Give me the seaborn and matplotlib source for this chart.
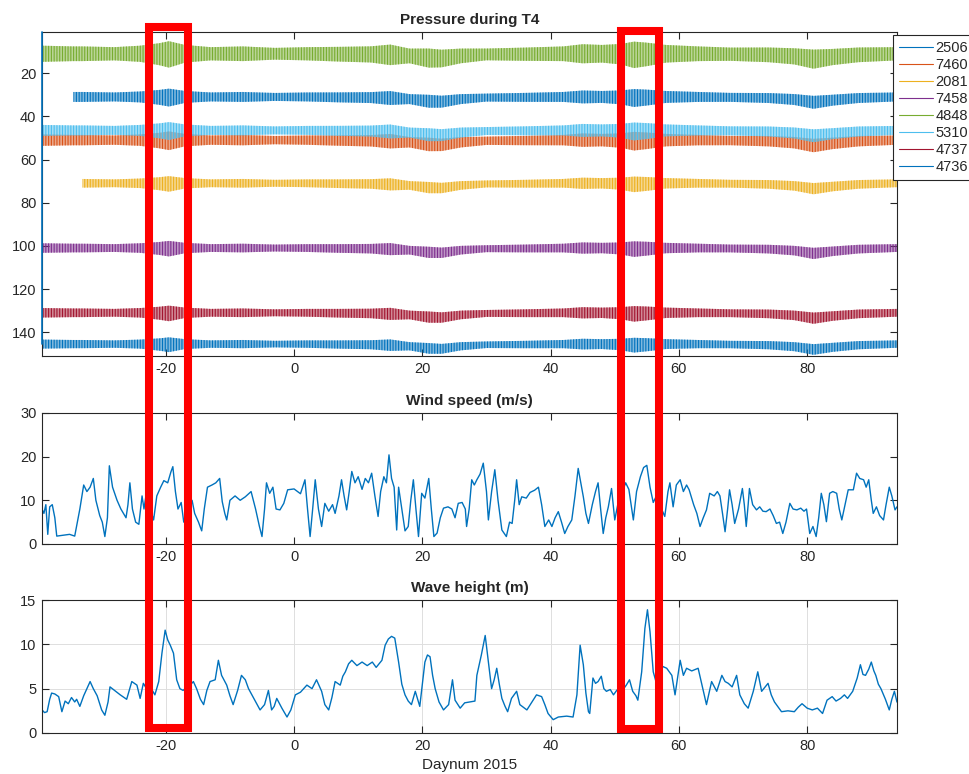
import matplotlib
matplotlib.use("Agg")
import matplotlib.pyplot as plt
from matplotlib.colors import to_rgba
from matplotlib.lines import Line2D
from matplotlib.patches import Rectangle
from matplotlib.transforms import blended_transform_factory
import numpy as np
import pandas as pd
import seaborn as sns

# ---- pressure loggers (depth in dbar, band = tidal range) ----
loggers = ["2506", "7460", "2081", "7458", "4848", "5310", "4737", "4736"]
logger_colors = ["#0072BD", "#D95319", "#EDB120", "#7E2F8E",
                 "#77AC30", "#4DBEEE", "#A2142F", "#0072BD"]
logger_depth = [31.0, 51.0, 71.0, 101.0, 11.0, 46.5, 131.0, 145.5]
logger_halfrange = [2.3, 2.4, 2.0, 2.0, 3.4, 2.3, 2.0, 1.9]
logger_start = [-34.4, -39.3, -33.0, -39.3, -39.3, -39.3, -39.3, -39.3]
deploy_4736 = [1.0, 145.5]

# spring/neap modulation of the tidal range and low-frequency setdown
env_day = [-39.3, -34.4, -33.0, -28, -24, -21, -19.5, -17, -13, -8, -3, 2, 7,
           12, 15, 18, 21, 23, 26, 30, 36, 42, 45, 48, 51, 53, 55, 58, 63,
           68, 74, 78, 81, 84, 88, 94]
tide_factor = [1.1, 1.0, 1.0, 0.9, 1.1, 1.5, 1.8, 1.2, 0.9, 1.0, 0.8, 0.9, 1.0,
               1.1, 1.4, 1.0, 1.3, 1.2, 1.0, 0.8, 0.9, 1.0, 1.3, 1.2, 1.4, 1.8,
               1.6, 1.2, 1.0, 0.9, 1.0, 1.1, 1.3, 1.1, 1.0, 0.9]
setdown = [0.0, 0.0, 0.0, 0.0, 0.0, 0.2, 0.3, 0.0, 0.0, 0.0, 0.0, 0.0, 0.2,
           0.3, 0.5, 1.0, 2.0, 2.2, 1.0, 0.3, 0.2, 0.0, 0.0, 0.0, 0.2, 0.5,
           0.3, 0.0, 0.0, 0.2, 0.5, 1.2, 2.5, 1.5, 0.5, 0.0]

# ---- wind speed (m/s) ----
wind_day = [-39.3, -39.0, -38.7, -38.4, -38.1, -37.7, -37.3, -37.0, -36.0, -35.0,
            -34.2, -33.4, -32.8, -32.3, -31.8, -31.3, -30.9, -30.3, -29.9, -29.5,
            -29.1, -28.8, -28.3, -27.6, -27.0, -26.2, -25.9, -25.6, -25.2, -24.7,
            -24.2, -23.7, -23.4, -23.0, -22.4, -21.9, -21.4, -20.8, -20.3, -19.7,
            -19.2, -18.9, -18.5, -18.1, -17.6, -17.2, -16.5, -15.9, -15.5, -14.9,
            -14.4, -14.0, -13.5, -12.8, -12.2, -11.6, -11.2, -10.8, -10.5, -10.0,
            -9.2, -8.4, -7.6, -6.7, -6.0, -5.4, -5.0, -4.6, -4.3, -3.8,
            -3.3, -2.8, -2.2, -1.6, -1.0, 0.0, 1.0, 1.7, 2.1, 2.5,
            2.9, 3.3, 3.8, 4.3, 4.8, 5.4, 6.0, 6.4, 7.0, 7.4,
            7.8, 8.2, 8.6, 9.0, 9.5, 10.0, 10.6, 11.1, 11.6, 12.1,
            12.6, 13.1, 13.5, 14.0, 14.4, 14.8, 15.2, 15.6, 16.0, 16.3,
            16.8, 17.3, 17.8, 18.2, 18.6, 19.0, 19.4, 19.9, 20.4, 21.0,
            21.4, 21.8, 22.3, 22.8, 23.3, 24.0, 24.6, 25.1, 25.6, 26.2,
            26.7, 26.9, 27.3, 27.7, 28.1, 28.5, 29.0, 29.5, 30.0, 30.3,
            30.8, 31.3, 31.8, 32.4, 33.1, 33.6, 34.0, 34.4, 34.7, 35.1,
            35.5, 36.2, 36.8, 37.5, 38.1, 38.6, 39.1, 39.7, 40.2, 40.7,
            41.2, 41.7, 42.2, 42.7, 43.3, 43.8, 44.3, 44.7, 45.1, 45.5,
            45.9, 46.5, 47.0, 47.4, 47.8, 48.2, 48.6, 49.0, 49.5, 50.0,
            50.6, 51.2, 51.7, 52.2, 52.9, 53.4, 54.0, 54.5, 55.0, 55.5,
            56.0, 56.5, 57.0, 57.8, 58.3, 58.6, 59.1, 59.6, 60.2, 60.7,
            61.2, 61.6, 62.3, 62.8, 63.3, 63.8, 64.3, 64.8, 65.5, 66.0,
            66.4, 66.8, 67.2, 67.6, 67.9, 68.3, 68.7, 69.3, 69.9, 70.2,
            70.5, 70.8, 71.0, 71.5, 72.1, 72.6, 73.1, 73.6, 74.2, 74.7,
            75.2, 75.7, 76.2, 76.7, 77.3, 77.8, 78.4, 79.0, 79.5, 79.9,
            80.4, 80.9, 81.4, 81.8, 82.2, 82.6, 83.0, 83.5, 84.0, 84.6,
            85.0, 85.4, 85.9, 86.4, 87.2, 87.7, 88.2, 88.8, 89.2, 89.6,
            90.0, 90.3, 90.8, 91.3, 91.9, 92.3, 92.8, 93.2, 93.7, 94.0]
wind_speed = [8.0, 7.0, 9.0, 2.2, 8.5, 9.0, 6.0, 1.8, 2.0, 2.2,
              1.8, 8.0, 13.5, 12.0, 13.0, 15.0, 10.0, 6.5, 5.0, 1.7,
              6.0, 17.9, 13.0, 10.0, 8.0, 6.0, 9.0, 14.0, 8.0, 5.0,
              4.5, 11.0, 8.0, 12.0, 8.0, 5.5, 11.0, 13.0, 14.5, 14.0,
              16.5, 17.7, 12.0, 8.0, 9.5, 5.0, 9.0, 10.0, 7.0, 5.0,
              3.0, 8.0, 13.0, 13.5, 14.0, 15.0, 9.7, 7.0, 5.5, 10.0,
              11.0, 10.0, 10.8, 12.0, 8.0, 4.0, 1.7, 8.0, 14.0, 11.6,
              13.0, 8.0, 7.8, 9.3, 12.4, 12.6, 11.5, 14.7, 8.0, 1.7,
              8.0, 14.7, 8.0, 4.0, 9.3, 7.5, 9.0, 7.0, 11.0, 14.7,
              11.0, 7.8, 12.0, 16.6, 14.0, 15.4, 12.5, 15.0, 14.0, 16.2,
              11.0, 6.3, 12.0, 15.4, 14.0, 20.4, 15.0, 13.0, 3.2, 13.0,
              8.0, 3.0, 4.0, 10.0, 14.7, 8.0, 1.7, 11.6, 10.5, 15.0,
              8.0, 1.7, 2.5, 6.0, 8.2, 8.5, 8.0, 6.0, 9.3, 9.5,
              8.0, 4.0, 8.0, 14.7, 13.5, 14.7, 16.0, 18.5, 12.0, 5.5,
              12.0, 17.0, 10.0, 3.2, 1.7, 5.0, 4.7, 10.0, 14.7, 9.0,
              10.8, 10.5, 11.8, 12.3, 13.0, 9.0, 4.0, 5.5, 4.0, 6.0,
              7.4, 5.0, 2.4, 4.0, 5.5, 11.0, 17.3, 14.0, 10.8, 7.0,
              4.7, 9.0, 12.0, 14.0, 8.0, 2.4, 6.0, 8.5, 12.7, 5.5,
              10.0, 12.0, 14.0, 12.5, 5.5, 12.0, 15.4, 17.5, 18.0, 13.0,
              9.5, 11.0, 9.0, 6.3, 12.0, 14.0, 8.5, 13.5, 14.7, 12.0,
              13.5, 12.4, 9.0, 7.0, 4.0, 6.0, 7.8, 11.6, 11.0, 12.0,
              11.0, 7.0, 2.8, 8.0, 12.4, 9.0, 4.7, 8.0, 12.7, 9.0,
              4.0, 9.0, 12.7, 9.0, 7.8, 8.5, 7.5, 7.4, 8.0, 6.5,
              4.7, 5.0, 2.4, 5.0, 9.3, 8.0, 7.8, 8.2, 7.5, 8.0,
              2.4, 4.0, 1.7, 6.0, 11.6, 9.0, 5.1, 11.6, 12.0, 11.6,
              8.0, 5.5, 9.0, 12.4, 12.4, 16.2, 15.0, 14.7, 13.0, 14.7,
              10.0, 7.0, 8.5, 6.5, 5.5, 9.0, 13.0, 11.0, 7.8, 8.5]

# ---- significant wave height (m) ----
wave_day = [-39.3, -38.9, -38.5, -38.1, -37.8, -37.3, -36.7, -36.2, -35.7, -35.2,
            -34.7, -34.2, -33.9, -33.4, -32.8, -32.3, -31.8, -31.3, -30.7, -30.0,
            -29.5, -29.0, -28.7, -28.0, -27.1, -26.1, -25.3, -24.9, -24.5, -24.0,
            -23.5, -23.0, -22.5, -22.1, -21.7, -21.1, -20.6, -20.1, -19.7, -19.3,
            -18.8, -18.3, -17.8, -17.3, -16.7, -16.2, -15.7, -15.2, -14.6, -14.1,
            -13.6, -13.1, -12.3, -11.8, -11.3, -10.5, -10.0, -9.5, -8.8, -8.2,
            -7.6, -7.1, -6.2, -5.3, -4.6, -4.0, -3.5, -3.1, -2.7, -1.9,
            -1.1, -0.5, 0.2, 1.0, 2.0, 2.8, 3.5, 4.3, 4.8, 5.4,
            5.9, 6.4, 7.2, 7.6, 8.0, 8.5, 9.0, 9.8, 10.6, 11.4,
            12.2, 12.8, 13.7, 14.2, 14.7, 15.2, 15.7, 16.3, 16.8, 17.3,
            17.8, 18.3, 18.9, 19.6, 20.0, 20.4, 20.8, 21.2, 21.6, 22.0,
            22.6, 23.3, 24.1, 24.7, 25.1, 25.9, 26.6, 27.4, 28.2, 28.5,
            29.2, 29.8, 30.3, 30.8, 31.2, 31.6, 32.0, 32.4, 32.9, 33.3,
            33.9, 34.7, 35.2, 36.3, 37.0, 37.8, 38.6, 39.1, 39.6, 40.4,
            41.2, 42.5, 43.5, 44.1, 44.6, 45.1, 45.5, 45.9, 46.1, 46.6,
            47.0, 47.4, 47.9, 48.3, 48.7, 49.3, 49.8, 50.3, 50.8, 51.4,
            51.8, 52.3, 52.8, 53.3, 53.6, 54.2, 54.7, 55.1, 55.5, 56.0,
            56.5, 57.0, 57.5, 58.1, 58.9, 59.4, 60.2, 60.7, 61.2, 62.0,
            63.0, 63.6, 64.3, 65.1, 65.9, 66.7, 67.2, 67.7, 68.3, 69.0,
            69.5, 70.2, 70.8, 71.6, 72.3, 72.9, 73.9, 74.4, 74.9, 75.5,
            76.0, 77.0, 78.0, 78.6, 79.2, 80.0, 80.8, 81.6, 82.4, 83.1,
            83.9, 84.5, 85.2, 85.8, 86.3, 87.1, 87.8, 88.3, 88.7, 89.1,
            89.6, 90.0, 90.4, 90.7, 91.1, 91.5, 92.2, 92.8, 93.2, 93.6,
            94.0, 94.4]
wave_height = [2.6, 2.3, 2.4, 3.8, 4.5, 4.4, 4.1, 2.4, 3.6, 3.3,
               4.0, 3.5, 3.8, 3.0, 4.2, 5.0, 5.8, 5.0, 4.2, 2.6,
               2.0, 3.5, 5.2, 4.8, 4.3, 3.8, 5.8, 5.6, 5.4, 3.9,
               5.6, 5.0, 4.3, 4.8, 4.3, 5.8, 9.0, 11.6, 10.5, 9.9,
               9.0, 6.0, 5.0, 4.8, 5.2, 5.4, 5.8, 5.0, 3.8, 3.2,
               4.8, 5.8, 6.0, 8.2, 6.5, 5.4, 4.2, 3.2, 4.8, 6.5,
               6.0, 5.0, 3.8, 2.6, 3.2, 4.8, 2.6, 3.0, 3.9, 2.8,
               1.8, 2.6, 4.3, 4.6, 5.4, 5.0, 6.0, 4.7, 3.2, 2.6,
               4.0, 5.8, 5.4, 6.4, 6.9, 7.8, 8.2, 7.6, 8.0, 7.6,
               8.0, 7.4, 8.2, 9.9, 10.6, 10.9, 10.7, 8.0, 5.5, 4.3,
               3.6, 3.2, 4.7, 3.0, 5.5, 8.0, 8.8, 8.6, 6.5, 5.0,
               3.5, 2.6, 3.2, 6.0, 3.7, 2.8, 3.4, 3.5, 3.6, 6.5,
               8.8, 11.0, 8.0, 5.0, 6.0, 7.3, 5.5, 3.9, 3.0, 2.4,
               3.9, 4.7, 3.2, 2.6, 3.4, 4.3, 4.1, 3.2, 2.2, 1.5,
               1.8, 1.9, 1.8, 4.3, 9.9, 7.7, 4.5, 2.4, 2.2, 6.2,
               5.6, 5.8, 6.4, 5.0, 4.7, 4.9, 4.3, 4.8, 5.2, 5.0,
               5.4, 6.0, 4.7, 4.2, 3.7, 6.9, 11.8, 13.9, 11.4, 6.9,
               5.6, 6.5, 7.5, 7.3, 6.5, 4.3, 8.2, 6.5, 7.3, 7.0,
               7.3, 5.4, 3.2, 5.8, 4.7, 6.5, 5.8, 5.6, 5.2, 6.5,
               4.3, 3.3, 2.8, 4.7, 6.9, 4.7, 5.6, 4.3, 3.5, 2.9,
               2.4, 2.5, 2.4, 2.9, 3.3, 2.8, 2.6, 2.8, 2.2, 3.7,
               4.1, 3.6, 3.9, 4.3, 3.9, 4.7, 6.2, 7.7, 6.6, 6.5,
               7.2, 8.0, 7.0, 6.5, 5.5, 5.0, 3.8, 2.6, 3.8, 4.7,
               3.5, 3.3]

day_ticks = [-20, 0, 20, 40, 60, 80]
day_lim = (-39.3, 94.0)

sns.set_theme(style="white")
plt.rcParams["font.family"] = ["Liberation Sans", "DejaVu Sans"]
plt.rcParams["hatch.linewidth"] = 0.8
plt.rcParams["axes.unicode_minus"] = False

line_blue = "#0072BD"
ink = "0.15"


def matlab_axes(ax):
    for s in ax.spines.values():
        s.set_color(ink)
        s.set_linewidth(0.8)
    ax.tick_params(direction="in", top=True, right=True, length=5, width=0.8,
                   color=ink, labelcolor=ink, labelsize=10.5, pad=4,
                   bottom=True, left=True)
    ax.set_xlim(*day_lim)
    ax.set_xticks(day_ticks)


fig = plt.figure(figsize=(9.7, 7.74), dpi=100)
ax_p = fig.add_axes([0.0433, 0.5401, 0.8814, 0.4186])
ax_w = fig.add_axes([0.0433, 0.2972, 0.8814, 0.1693])
ax_h = fig.add_axes([0.0433, 0.0530, 0.8814, 0.1718])

# pressure panel: tidal bands
d = np.array(env_day)
handles = []
for name, color, depth, half, start in zip(loggers, logger_colors, logger_depth,
                                            logger_halfrange, logger_start):
    keep = d >= start
    center = depth + np.array(setdown)
    hw = half * np.array(tide_factor)
    ax_p.fill_between(d[keep], (center - hw)[keep], (center + hw)[keep],
                      facecolor=to_rgba(color, 0.5), edgecolor=color,
                      hatch="||||||", linewidth=0)
    handles.append(Line2D([], [], color=color, linewidth=0.8))
ax_p.plot([logger_start[-1]] * 2, deploy_4736, color=logger_colors[-1],
          linewidth=1.2, zorder=3, clip_on=False)

ax_p.set_ylim(151, 0.9)
ax_p.set_yticks([20, 40, 60, 80, 100, 120, 140])
matlab_axes(ax_p)
ax_p.set_title("Pressure during T4", fontweight="bold", fontsize=11, pad=6)
leg = ax_p.legend(handles, loggers, loc="upper left", bbox_to_anchor=(0.995, 0.991),
                  borderaxespad=0, fancybox=False, framealpha=1, edgecolor=ink,
                  fontsize=10.5, handlelength=2.3, handletextpad=0.2,
                  borderpad=0.45, labelspacing=0.2)
leg.get_frame().set_linewidth(0.8)
for t in leg.get_texts():
    t.set_color(ink)

# wind panel
wind = pd.DataFrame({"day": wind_day, "speed": wind_speed})
sns.lineplot(data=wind, x="day", y="speed", ax=ax_w, color=line_blue,
             linewidth=1.0, estimator=None)
ax_w.set_ylim(0, 30)
ax_w.set_yticks([0, 10, 20, 30])
matlab_axes(ax_w)
ax_w.set_xlabel("")
ax_w.set_ylabel("")
ax_w.set_title("Wind speed (m/s)", fontweight="bold", fontsize=11, pad=6)

# wave panel
wave = pd.DataFrame({"day": wave_day, "height": wave_height})
sns.lineplot(data=wave, x="day", y="height", ax=ax_h, color=line_blue,
             linewidth=1.0, estimator=None)
ax_h.set_ylim(0, 15)
ax_h.set_yticks([0, 5, 10, 15])
matlab_axes(ax_h)
ax_h.grid(True, color="0.87", linewidth=0.7)
ax_h.set_axisbelow(True)
ax_h.set_ylabel("")
ax_h.set_xlabel("Daynum 2015", fontsize=11, color=ink, labelpad=4)
ax_h.set_title("Wave height (m)", fontweight="bold", fontsize=11, pad=6)

# red highlight boxes spanning all three panels
trans = blended_transform_factory(ax_h.transData, fig.transFigure)
for x0, x1, y0, y1 in [(-22.6, -16.5, 0.0594, 0.9651), (51.0, 56.9, 0.0575, 0.9600)]:
    fig.add_artist(Rectangle((x0, y0), x1 - x0, y1 - y0, transform=trans,
                             fill=False, edgecolor="#FF0000", linewidth=5.8,
                             joinstyle="miter", clip_on=False, zorder=10))

fig.savefig("out.png", dpi=100)
